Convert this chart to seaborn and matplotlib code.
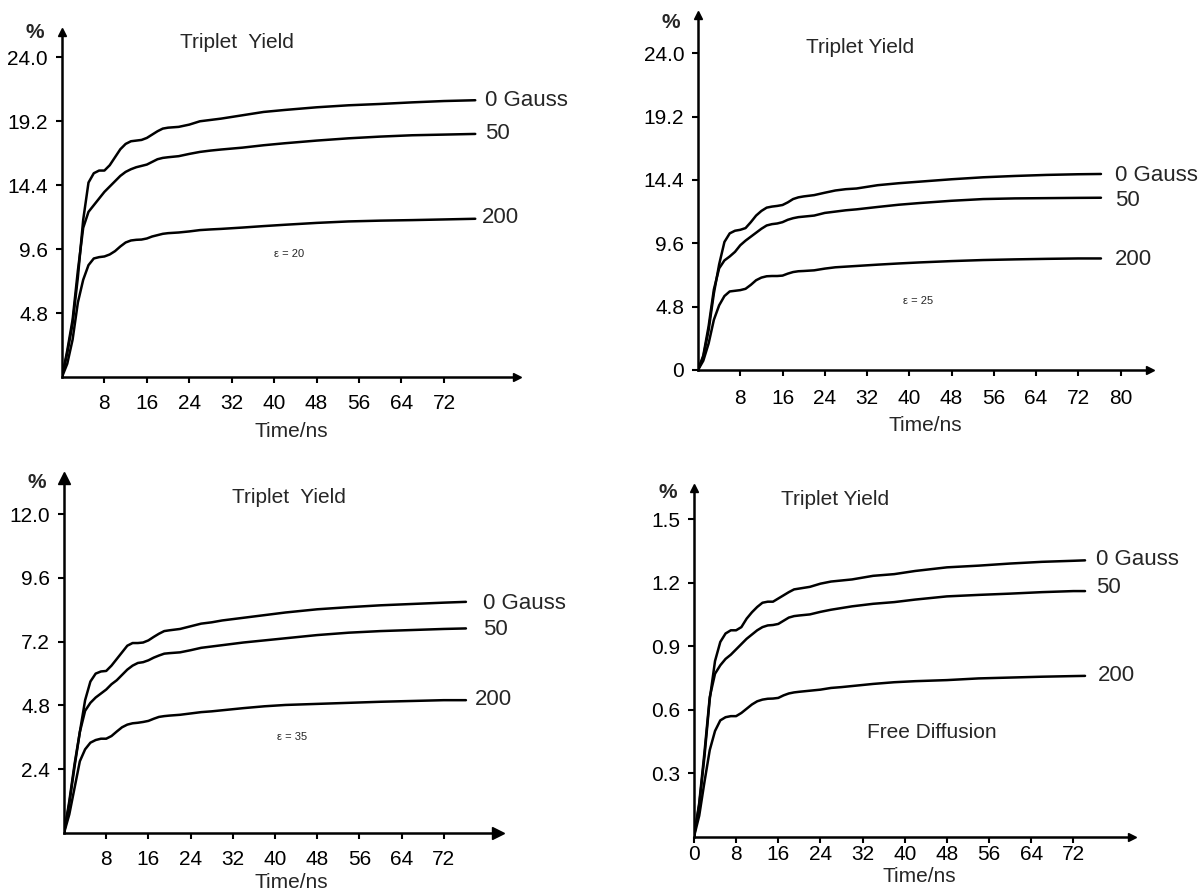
import numpy as np
import pandas as pd
import matplotlib
matplotlib.use("Agg")
import matplotlib.pyplot as plt
import seaborn as sns

# time grid (ns) shared by the curves, last point = where the curve stops
time_head = [0, 1, 2, 3, 4, 5, 6, 7, 8, 9, 10, 11, 12, 13, 14, 15, 16, 17, 18, 19, 20,
             22, 24, 26, 28, 30, 34, 38, 42, 48, 54, 60, 66, 72]
time_end = [77.9, 76.3, 76.2, 74.2]
fields = ["0 Gauss", "50", "200"]

# panel 1, epsilon = 20
p1_g0 = [0, 1.8, 4.0, 7.5, 11.8, 14.6, 15.3, 15.5, 15.5, 15.9, 16.5, 17.1, 17.5, 17.7, 17.75, 17.8,
         17.95, 18.2, 18.45, 18.65, 18.72, 18.78, 18.95, 19.2, 19.3, 19.4, 19.65, 19.9, 20.05, 20.25,
         20.4, 20.5, 20.62, 20.72, 20.78]
p1_g50 = [0, 2.0, 4.3, 8.0, 11.2, 12.4, 12.9, 13.4, 13.9, 14.3, 14.7, 15.1, 15.4, 15.6, 15.75, 15.85,
          15.95, 16.15, 16.35, 16.45, 16.5, 16.58, 16.75, 16.9, 17.0, 17.08, 17.22, 17.4, 17.55, 17.75,
          17.92, 18.05, 18.15, 18.2, 18.25]
p1_g200 = [0, 1.0, 2.8, 5.6, 7.3, 8.4, 8.9, 9.0, 9.05, 9.2, 9.45, 9.8, 10.1, 10.25, 10.3, 10.32,
           10.4, 10.55, 10.65, 10.75, 10.8, 10.85, 10.93, 11.03, 11.08, 11.12, 11.22, 11.33, 11.43,
           11.57, 11.68, 11.74, 11.78, 11.83, 11.88]

# panel 2, epsilon = 25
p2_g0 = [0, 1.0, 3.0, 5.8, 8.0, 9.7, 10.35, 10.55, 10.62, 10.75, 11.2, 11.7, 12.05, 12.3, 12.38, 12.43,
         12.5, 12.7, 12.95, 13.08, 13.15, 13.25, 13.43, 13.6, 13.7, 13.75, 14.0, 14.15, 14.27, 14.45,
         14.6, 14.7, 14.78, 14.83, 14.85]
p2_g50 = [0, 1.1, 3.3, 6.1, 7.7, 8.3, 8.6, 8.95, 9.45, 9.8, 10.1, 10.4, 10.7, 10.95, 11.05, 11.1,
          11.2, 11.38, 11.5, 11.58, 11.62, 11.7, 11.9, 12.0, 12.1, 12.17, 12.35, 12.52, 12.65, 12.82,
          12.95, 13.0, 13.02, 13.04, 13.05]
p2_g200 = [0, 0.7, 2.0, 3.8, 4.9, 5.6, 5.95, 6.0, 6.05, 6.15, 6.45, 6.8, 7.0, 7.1, 7.12, 7.12,
           7.15, 7.3, 7.42, 7.48, 7.5, 7.55, 7.68, 7.78, 7.83, 7.88, 7.98, 8.07, 8.15, 8.25,
           8.33, 8.38, 8.42, 8.45, 8.45]

# panel 3, epsilon = 35
p3_g0 = [0, 1.1, 2.5, 3.8, 5.0, 5.7, 6.0, 6.08, 6.1, 6.3, 6.55, 6.8, 7.05, 7.15, 7.15, 7.17,
         7.25, 7.38, 7.5, 7.6, 7.63, 7.68, 7.78, 7.88, 7.93, 8.0, 8.1, 8.2, 8.3, 8.42,
         8.5, 8.57, 8.62, 8.67, 8.7]
p3_g50 = [0, 1.2, 2.6, 3.8, 4.6, 4.9, 5.1, 5.25, 5.4, 5.6, 5.75, 5.95, 6.15, 6.3, 6.4, 6.43,
          6.5, 6.6, 6.68, 6.75, 6.77, 6.8, 6.88, 6.97, 7.02, 7.07, 7.17, 7.25, 7.33, 7.45,
          7.54, 7.6, 7.64, 7.68, 7.7]
p3_g200 = [0, 0.7, 1.7, 2.7, 3.15, 3.4, 3.5, 3.55, 3.55, 3.65, 3.82, 3.98, 4.08, 4.13, 4.15, 4.18,
           4.22, 4.3, 4.37, 4.4, 4.42, 4.45, 4.5, 4.55, 4.58, 4.62, 4.7, 4.77, 4.82, 4.86,
           4.9, 4.94, 4.97, 5.0, 5.0]

# panel 4, free diffusion
p4_g0 = [0, 0.15, 0.38, 0.65, 0.83, 0.92, 0.96, 0.975, 0.975, 0.99, 1.03, 1.06, 1.085, 1.105, 1.11,
         1.11, 1.125, 1.14, 1.155, 1.168, 1.172, 1.18, 1.195, 1.205, 1.21, 1.215, 1.232, 1.24, 1.255,
         1.272, 1.28, 1.29, 1.298, 1.303, 1.305]
p4_g50 = [0, 0.16, 0.4, 0.66, 0.77, 0.81, 0.84, 0.86, 0.885, 0.91, 0.935, 0.955, 0.975, 0.99, 0.998,
          1.0, 1.005, 1.02, 1.035, 1.042, 1.045, 1.05, 1.062, 1.072, 1.08, 1.088, 1.1, 1.108, 1.12,
          1.135, 1.142, 1.148, 1.155, 1.16, 1.16]
p4_g200 = [0, 0.1, 0.26, 0.41, 0.5, 0.55, 0.565, 0.57, 0.57, 0.585, 0.605, 0.625, 0.64, 0.648, 0.652,
           0.653, 0.656, 0.668, 0.677, 0.682, 0.685, 0.69, 0.695, 0.703, 0.707, 0.712, 0.722, 0.73,
           0.735, 0.74, 0.748, 0.752, 0.756, 0.759, 0.76]

series = [(p1_g0, p1_g50, p1_g200), (p2_g0, p2_g50, p2_g200),
          (p3_g0, p3_g50, p3_g200), (p4_g0, p4_g50, p4_g200)]

x_ticks = [[8, 16, 24, 32, 40, 48, 56, 64, 72],
           [8, 16, 24, 32, 40, 48, 56, 64, 72, 80],
           [8, 16, 24, 32, 40, 48, 56, 64, 72],
           [0, 8, 16, 24, 32, 40, 48, 56, 64, 72]]
y_ticks = [[4.8, 9.6, 14.4, 19.2, 24.0],
           [0, 4.8, 9.6, 14.4, 19.2, 24.0],
           [2.4, 4.8, 7.2, 9.6, 12.0],
           [0.3, 0.6, 0.9, 1.2, 1.5]]
y_labels = [["4.8", "9.6", "14.4", "19.2", "24.0"],
            ["0", "4.8", "9.6", "14.4", "19.2", "24.0"],
            ["2.4", "4.8", "7.2", "9.6", "12.0"],
            ["0.3", "0.6", "0.9", "1.2", "1.5"]]
titles = ["Triplet  Yield", "Triplet Yield", "Triplet  Yield", "Triplet Yield"]
notes = ["\u03b5 = 20", "\u03b5 = 25", "\u03b5 = 35", "Free Diffusion"]

# layout (figure fractions), limits and text placement per panel
rects = [[0.0516, 0.5764, 0.379, 0.3876],
         [0.5812, 0.5843, 0.3764, 0.3989],
         [0.0533, 0.0640, 0.3610, 0.3989],
         [0.5778, 0.0596, 0.3647, 0.3920]]
xlims = [85.8, 85.6, 82.2, 83.1]
ylims = [25.9, 26.9, 13.36, 1.646]
title_pos = [(33, 25.1), (30.7, 24.4), (42.7, 12.64), (26.8, 1.594)]
note_pos = [(42.8, 9.25), (41.7, 5.2), (43.2, 3.6), (45.2, 0.494)]
note_size = [8, 8, 8, 15]
lab_pos = [[(79.8, 20.75), (79.8, 18.3), (79.2, 12.0)],
           [(78.9, 14.76), (78.9, 12.87), (78.9, 8.4)],
           [(79.4, 8.62), (79.4, 7.67), (77.9, 5.04)],
           [(76.3, 1.311), (76.3, 1.175), (76.7, 0.76)]]
xlabel_pos = [(0.503, -0.159), (0.502, -0.155), (0.525, -0.138), (0.514, -0.114)]
pct_pos = [(35, 33), (671, 23), (37, 483), (668, 492)]
xpad = [8, 10, 8, 2]

sns.set_style("ticks")
plt.rcParams['font.family'] = ['Liberation Sans', 'DejaVu Sans']

fig = plt.figure(figsize=(12.01, 8.90), dpi=100)
fig.patch.set_facecolor("white")

for i in range(4):
    ax = fig.add_axes(rects[i])
    t = time_head + [time_end[i]]
    df = pd.DataFrame({
        "time": t * 3,
        "yield": list(series[i][0]) + list(series[i][1]) + list(series[i][2]),
        "field": [f for f in fields for _ in t],
    })
    sns.lineplot(data=df, x="time", y="yield", hue="field", palette=["black"] * 3,
                 legend=False, linewidth=1.8, ax=ax, sort=False)

    ax.set_xlim(0, xlims[i])
    ax.set_ylim(0, ylims[i])
    sns.despine(ax=ax)
    for s in ["left", "bottom"]:
        ax.spines[s].set_linewidth(1.8)
        ax.spines[s].set_color("black")
    # arrow heads on the axes
    ms = 9 if i == 2 else 6
    ax.plot(1, 0, ">k", transform=ax.transAxes, clip_on=False, ms=ms)
    ax.plot(0, 1, "^k", transform=ax.transAxes, clip_on=False, ms=ms)

    ax.set_xticks(x_ticks[i])
    ax.set_xticklabels([str(v) for v in x_ticks[i]])
    ax.set_yticks(y_ticks[i])
    ax.set_yticklabels(y_labels[i])
    ax.tick_params(axis="both", direction="out", length=4, width=1.5, colors="black",
                   labelsize=15)
    ax.tick_params(axis="x", pad=xpad[i])
    ax.tick_params(axis="y", pad=6)

    ax.set_xlabel("Time/ns", fontsize=15, va="center")
    ax.xaxis.set_label_coords(*xlabel_pos[i])
    ax.set_ylabel("")

    ax.text(*title_pos[i], titles[i], ha="center", va="center", fontsize=15)
    ax.text(*note_pos[i], notes[i], ha="center", va="center", fontsize=note_size[i])
    for (lx, ly), name in zip(lab_pos[i], fields):
        ax.text(lx, ly, name, ha="left", va="center", fontsize=16, clip_on=False)

    fig.text(pct_pos[i][0] / 1201, 1 - pct_pos[i][1] / 890, "%", ha="center", va="center",
             fontsize=15, fontweight="bold")

fig.savefig("out.png", dpi=100, facecolor="white")
